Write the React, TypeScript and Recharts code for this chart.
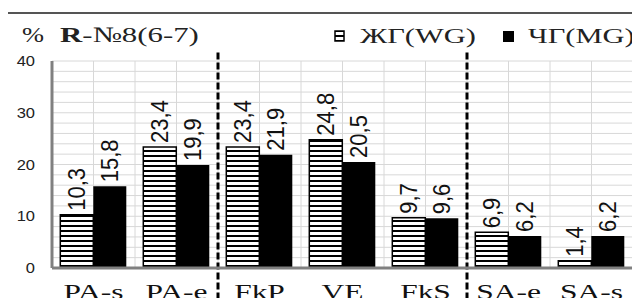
import React from "react";
import {
  BarChart,
  Bar,
  XAxis,
  YAxis,
  ReferenceLine,
  LabelList,
} from "recharts";

const categories = ["PA-s", "PA-e", "FkP", "VE", "FkS", "SA-e", "SA-s"];
const wgValues = [10.3, 23.4, 23.4, 24.8, 9.7, 6.9, 1.4];
const mgValues = [15.8, 19.9, 21.9, 20.5, 9.6, 6.2, 6.2];
const yTicks = [0, 10, 20, 30, 40];
const minorTicks = [2, 4, 6, 8, 10, 12, 14, 16, 18, 20, 22, 24, 26, 28, 30, 32, 34, 36, 38, 40];
// dashed separators drawn at the start of these groups
const groupStarts = ["FkP", "SA-e"];

const data = categories.map((name, i) => ({ name, wg: wgValues[i], mg: mgValues[i] }));

const SERIF = "'Liberation Serif', 'Times New Roman', serif";
const SANS = "'Liberation Sans', Arial, sans-serif";
const GRID = "#d8d8d8";

const W = 640;
const H = 306;
const MARGIN = { top: 61, right: 7, left: 0, bottom: 0 };

const fmt = (v: number) => v.toFixed(1).replace(".", ",");

function ValueLabel(props: any) {
  const vb = props.viewBox || {};
  const x = props.x ?? vb.x;
  const y = props.y ?? vb.y;
  const w = props.width ?? vb.width;
  if (x == null || y == null) return null;
  const cx = x + w / 2;
  return (
    <text
      transform={`translate(${cx},${y - 4}) scale(1.1,1) rotate(-90)`}
      textAnchor="start"
      dominantBaseline="central"
      fontFamily={SANS}
      fontSize={22}
      fill="#111"
    >
      {fmt(props.value)}
    </text>
  );
}

function XTick(props: any) {
  const { x, y, payload } = props;
  return (
    <text
      transform={`translate(${x},${y + 31}) scale(1.5,1)`}
      textAnchor="middle"
      fontFamily={SERIF}
      fontSize={21}
      fill="#111"
    >
      {payload.value}
    </text>
  );
}

function YTick(props: any) {
  const { x, y, payload } = props;
  return (
    <text
      transform={`translate(${x},${y}) scale(1.1,1)`}
      textAnchor="end"
      dominantBaseline="central"
      fontFamily={SANS}
      fontSize={15}
      fill="#222"
    >
      {payload.value}
    </text>
  );
}

const vLine = (c: string, position: string) => (
  <ReferenceLine
    key={c + position}
    position={position as any}
    segment={[
      { x: c, y: 0 },
      { x: c, y: 40 },
    ]}
    ifOverflow="visible"
    stroke={GRID}
    strokeWidth={1}
  />
);

// grid sits in its own chart underneath so the bars cover it
function GridLayer() {
  return (
    <BarChart width={W} height={H} data={data} margin={MARGIN} barCategoryGap="10%" barGap={0}>
      <XAxis dataKey="name" height={38} tick={false} tickLine={false} axisLine={false} />
      <YAxis width={52} domain={[0, 40]} ticks={yTicks} tick={false} tickLine={false} axisLine={false} />
      <Bar dataKey="wg" fill="transparent" isAnimationActive={false} />
      <Bar dataKey="mg" fill="transparent" isAnimationActive={false} />
      {minorTicks.map((t) => (
        <ReferenceLine key={"h" + t} y={t} ifOverflow="visible" stroke={GRID} strokeWidth={1} />
      ))}
      {categories.map((c) => vLine(c, "start"))}
      {categories.map((c) => vLine(c, "middle"))}
      {vLine(categories[categories.length - 1], "end")}
    </BarChart>
  );
}

export default function App() {
  return (
    <div
      style={{
        position: "relative",
        width: W,
        height: H,
        margin: -8,
        overflow: "hidden",
        background: "#fff",
      }}
    >
      <svg width={0} height={0} style={{ position: "absolute" }}>
        <defs>
          <pattern id="stripes" width={6} height={5} patternUnits="userSpaceOnUse">
            <rect width={6} height={5} fill="#fff" />
            <rect width={6} height={2} fill="#000" />
          </pattern>
        </defs>
      </svg>
      <div
        style={{
          position: "absolute",
          left: 6,
          top: 12,
          width: 700,
          height: 400,
          border: "2px solid #555",
        }}
      />
      <div style={{ position: "absolute", left: 0, top: 0 }}>
        <GridLayer />
      </div>
      <div style={{ position: "absolute", left: 0, top: 0 }}>
        <BarChart
          width={W}
          height={H}
          data={data}
          margin={MARGIN}
          barCategoryGap="10%"
          barGap={0}
        >
          <XAxis
            dataKey="name"
            height={38}
            tickLine={false}
            tickSize={0}
            tickMargin={0}
            tick={<XTick />}
            axisLine={{ stroke: "#808080", strokeWidth: 3 }}
            interval={0}
          />
          <YAxis
            width={52}
            domain={[0, 40]}
            ticks={yTicks}
            tickLine={false}
            tickSize={0}
            tickMargin={17}
            tick={<YTick />}
            axisLine={{ stroke: "#808080", strokeWidth: 3 }}
          />
          <Bar
            dataKey="wg"
            fill="url(#stripes)"
            stroke="#000"
            strokeWidth={1.5}
            isAnimationActive={false}
          >
            <LabelList dataKey="wg" content={<ValueLabel />} />
          </Bar>
          <Bar dataKey="mg" fill="#000" isAnimationActive={false}>
            <LabelList dataKey="mg" content={<ValueLabel />} />
          </Bar>
          {groupStarts.map((c) => (
            <ReferenceLine
              key={c}
              position="start"
              segment={[
                { x: c, y: -8 },
                { x: c, y: 41.7 },
              ]}
              ifOverflow="visible"
              stroke="#000"
              strokeWidth={3}
              strokeDasharray="7 3"
            />
          ))}
        </BarChart>
      </div>
      <svg
        width={W}
        height={H}
        style={{ position: "absolute", left: 0, top: 0, pointerEvents: "none" }}
      >
        <text transform="translate(22,42) scale(1.2,1)" fontFamily={SERIF} fontSize={22} fill="#222">
          %
        </text>
        <text transform="translate(60,42) scale(1.4,1)" fontFamily={SERIF} fontSize={22} fill="#222">
          <tspan fontWeight="bold">R</tspan>-№8(6-7)
        </text>
        <rect x={335} y={31} width={9} height={10} fill="url(#stripes)" stroke="#000" strokeWidth={1.5} />
        <text transform="translate(360,43) scale(1.45,1)" fontFamily={SERIF} fontSize={21} fill="#222">
          ЖГ(WG)
        </text>
        <rect x={503} y={31} width={11} height={11} fill="#000" />
        <text transform="translate(528,43) scale(1.45,1)" fontFamily={SERIF} fontSize={21} fill="#222">
          ЧГ(MG)
        </text>
      </svg>
    </div>
  );
}
